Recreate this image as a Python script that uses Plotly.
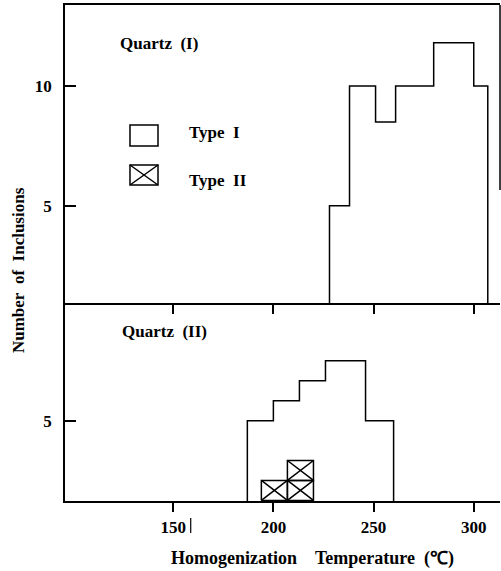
import plotly.graph_objects as go

# ---- data ----
top_edges = [228, 238, 251, 261, 280, 300, 307]          # Quartz (I) bin edges (°C)
top_counts = [5, 10, 8.5, 10, 11.8, 10]                  # Type I counts
bot_edges = [187, 200, 213, 226, 246, 260]               # Quartz (II) bin edges
bot_counts = [5, 6, 7, 8, 5]                             # Type I counts
typeII_edges = [194, 207, 220]                           # Quartz (II) Type II bin edges
typeII_counts = [1, 2]                                   # Type II boxes stacked
x_ticks = [150, 200, 250, 300]
x_range = [96, 313.1]
top_y_range = [0.94, 13.38]
bot_y_range = [0.97, 10.9]
typeII_base = 1

FONT = "Liberation Serif"
LW = 1.5


def step_outline(edges, vals, base):
    xs = [edges[0]] + list(edges) + [edges[-1]]
    ys = [base] + list(vals) + [vals[-1], base]
    return xs, ys


fig = go.Figure()

# Top panel histogram (Quartz I)
xs, ys = step_outline(top_edges, top_counts, top_y_range[0])
fig.add_trace(go.Scatter(x=xs, y=ys, mode="lines", line=dict(color="black", width=LW, shape="hv"),
                         xaxis="x2", yaxis="y2", showlegend=False, hoverinfo="skip"))

# Bottom panel histogram (Quartz II)
xs, ys = step_outline(bot_edges, bot_counts, bot_y_range[0])
fig.add_trace(go.Scatter(x=xs, y=ys, mode="lines", line=dict(color="black", width=LW, shape="hv"),
                         xaxis="x", yaxis="y", showlegend=False, hoverinfo="skip"))

# Type II crossed boxes
for i, n in enumerate(typeII_counts):
    x0, x1 = typeII_edges[i], typeII_edges[i + 1]
    for k in range(n):
        y0 = typeII_base + k
        y1 = y0 + 1
        bx = [x0, x1, x1, x0, x0, None, x0, x1, None, x0, x1]
        by = [y0, y0, y1, y1, y0, None, y0, y1, None, y1, y0]
        fig.add_trace(go.Scatter(x=bx, y=by, mode="lines", line=dict(color="black", width=LW),
                                 xaxis="x", yaxis="y", showlegend=False, hoverinfo="skip",
                                 connectgaps=False))

tickfont = dict(family=FONT, size=17, color="black", weight="bold")
split = 0.3992

fig.update_layout(
    width=501, height=571,
    margin=dict(l=65, r=1, t=5, b=70),
    paper_bgcolor="white", plot_bgcolor="white",
    font=dict(family=FONT, color="black"),
    xaxis=dict(domain=[0, 1], range=x_range, anchor="y", showline=True, linecolor="black", linewidth=LW,
               ticks="outside", ticklen=9, tickwidth=LW, tickcolor="black", tickvals=x_ticks,
               tickfont=tickfont, showgrid=False, zeroline=False, ticklabelstandoff=1),
    yaxis=dict(domain=[0, split], range=bot_y_range, anchor="x", showline=True, linecolor="black",
               linewidth=LW, ticks="inside", ticklen=11, tickwidth=LW, tickcolor="black", tickvals=[5],
               tickfont=tickfont, showgrid=False, zeroline=False, ticklabelstandoff=8),
    xaxis2=dict(domain=[0, 1], range=x_range, anchor="y2", matches="x", showline=True, mirror=True,
                linecolor="black", linewidth=LW, ticks="outside", ticklen=9, tickwidth=LW,
                tickcolor="black", tickvals=x_ticks, showticklabels=False, showgrid=False, zeroline=False),
    yaxis2=dict(domain=[split, 1], range=top_y_range, anchor="x2", showline=True, linecolor="black",
                linewidth=LW, ticks="inside", ticklen=11, tickwidth=LW, tickcolor="black", tickvals=[5, 10],
                tickfont=tickfont, showgrid=False, zeroline=False, ticklabelstandoff=8),
)

afont = dict(family=FONT, size=17, color="black", weight="bold")
annos = [
    dict(text="Quartz\u00a0\u00a0(I)", x=0.122, y=0.923, xanchor="left", yanchor="middle"),
    dict(text="Quartz\u00a0\u00a0(II)", x=0.126, y=0.341, xanchor="left", yanchor="middle"),
    dict(text="Type\u00a0\u00a0I", x=0.2805, y=0.742, xanchor="left", yanchor="middle"),
    dict(text="Type\u00a0\u00a0II", x=0.2805, y=0.647, xanchor="left", yanchor="middle"),
    dict(text="Homogenization\u00a0\u00a0\u00a0\u00a0Temperature\u00a0\u00a0(\u2103)", x=0.568, y=-0.115,
         xanchor="center", yanchor="middle", font=dict(family=FONT, size=18, color="black", weight="bold")),
    dict(text="Number\u00a0\u00a0of\u00a0\u00a0Inclusions", x=-0.108, y=0.4657, xanchor="center",
         yanchor="middle", textangle=-90),
]
for a in annos:
    a.setdefault("font", afont)
    fig.add_annotation(xref="paper", yref="paper", showarrow=False, **a)

# Legend symbols
bx0, bx1 = 0.1494, 0.2138
line = dict(color="black", width=LW)
fig.add_shape(type="rect", xref="paper", yref="paper", x0=bx0, x1=bx1, y0=0.7157, y1=0.758, line=line)
fig.add_shape(type="rect", xref="paper", yref="paper", x0=bx0, x1=bx1, y0=0.6371, y1=0.6774, line=line)
fig.add_shape(type="line", xref="paper", yref="paper", x0=bx0, x1=bx1, y0=0.6371, y1=0.6774, line=line)
fig.add_shape(type="line", xref="paper", yref="paper", x0=bx0, x1=bx1, y0=0.6774, y1=0.6371, line=line)

# partial right border of the top panel and small mark beside "150"
fig.add_shape(type="line", xref="paper", yref="paper", x0=1, x1=1, y0=0.627, y1=1, line=line)
fig.add_shape(type="line", xref="paper", yref="paper", x0=0.289, x1=0.289, y0=-0.0343, y1=-0.0645,
              line=dict(color="black", width=1.2))

fig.write_html("out.html", config={"displayModeBar": False},
               post_script="document.body.style.margin='0';document.body.style.padding='0';")
